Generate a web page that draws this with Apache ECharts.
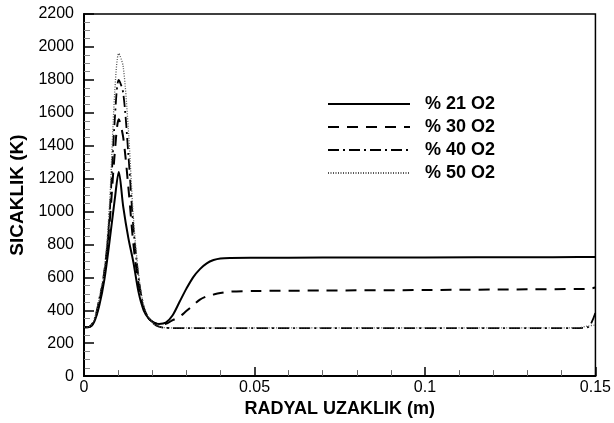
<!DOCTYPE html>
<html>
<head>
<meta charset="utf-8">
<script src="https://cdn.jsdelivr.net/npm/echarts@6/dist/echarts.min.js"></script>
<style>html,body{margin:0;padding:0;background:#fff}#c{width:614px;height:423px}</style>
</head>
<body>
<div id="c"></div>
<script>
var xs = [0, 0.0015, 0.003, 0.0045, 0.006, 0.0075, 0.009, 0.0102, 0.0115, 0.013, 0.0145, 0.016, 0.0175, 0.019, 0.0205, 0.022, 0.024, 0.026, 0.028, 0.030, 0.032, 0.034, 0.036, 0.038, 0.040, 0.043, 0.05, 0.07, 0.1, 0.13, 0.145, 0.148, 0.15];
var o21 = [297, 298, 330, 430, 590, 820, 1070, 1240, 1030, 840, 690, 510, 400, 350, 325, 317, 325, 370, 450, 530, 600, 650, 685, 705, 715, 718, 719, 720, 721, 722, 723, 723, 723];
var o30 = [297, 298, 335, 450, 640, 930, 1350, 1560, 1450, 1150, 800, 560, 410, 350, 325, 316, 318, 340, 360, 395, 430, 465, 485, 496, 505, 514, 517, 520, 523, 527, 529, 530, 538];
var o40 = [297, 299, 340, 470, 620, 980, 1550, 1800, 1720, 1350, 900, 600, 420, 350, 318, 300, 293, 292, 291, 291, 291, 291, 291, 291, 291, 291, 291, 291, 291, 291, 292, 300, 385];
var o50 = [297, 300, 345, 480, 650, 1050, 1720, 1960, 1880, 1500, 960, 620, 430, 355, 318, 300, 294, 293, 293, 293, 293, 293, 293, 293, 293, 293, 293, 293, 293, 293, 294, 305, 310];
var names = ['% 21 O2', '% 30 O2', '% 40 O2', '% 50 O2'];
var xTicks = [0, 0.05, 0.1, 0.15];
var yTicks = [0, 200, 400, 600, 800, 1000, 1200, 1400, 1600, 1800, 2000, 2200];

function pairs(v){ return xs.map(function(x,i){ return [x, v[i]]; }); }
var styles = [
  {color:'#000', width:2, type:'solid'},
  {color:'#000', width:2, type:[11,8]},
  {color:'#000', width:1.8, type:[11,4,2,4]},
  {color:'#555', width:1.3, type:[1,1.5]}
];
var vals = [o21, o30, o40, o50];
var chart = echarts.init(document.getElementById('c'));
var font = 'Liberation Sans, Arial, sans-serif';
chart.setOption({
  animation:false,
  grid:{left:84, right:17, top:14, bottom:39, show:true, borderColor:'#000', borderWidth:1.5, backgroundColor:'transparent'},
  legend:{
    orient:'vertical', left:322, top:90, itemWidth:82, itemHeight:14, itemGap:5,
    data:names,
    itemStyle:{opacity:0},
    textStyle:{fontFamily:font, fontWeight:'bold', fontSize:18, lineHeight:14, color:'#000', padding:[0,0,0,10]}
  },
  xAxis:{
    type:'value', min:xTicks[0], max:xTicks[xTicks.length-1], interval:0.05,
    name:'RADYAL UZAKLIK (m)', nameLocation:'middle', nameGap:17,
    nameTextStyle:{fontFamily:font, fontWeight:'bold', fontSize:18, color:'#000'},
    axisLine:{lineStyle:{color:'#000', width:2}},
    axisTick:{inside:true, length:9, lineStyle:{color:'#000', width:1.5}},
    minorTick:{show:true, splitNumber:5, length:6, lineStyle:{color:'#666', width:1}},
    axisLabel:{fontFamily:font, fontSize:16, color:'#000', margin:3, formatter:function(v){ return String(v); }},
    splitLine:{show:false}
  },
  yAxis:{
    type:'value', min:yTicks[0], max:yTicks[yTicks.length-1], interval:200,
    name:'SICAKLIK (K)', nameLocation:'middle', nameGap:55,
    nameTextStyle:{fontFamily:font, fontWeight:'bold', fontSize:19, color:'#000'},
    axisLine:{show:true, lineStyle:{color:'#000', width:2}},
    axisTick:{inside:true, length:10, lineStyle:{color:'#000', width:1.5}},
    minorTick:{show:true, splitNumber:4, length:6, lineStyle:{color:'#888', width:1}},
    axisLabel:{fontFamily:font, fontSize:16, color:'#000', margin:10, formatter:function(v){ return String(v); }},
    splitLine:{show:false}
  },
  series: names.map(function(n,i){
    return {name:n, type:'line', data:pairs(vals[i]), symbol:'none', smooth:0.3,
      lineStyle:styles[i], itemStyle:{color:styles[i].color}};
  })
});
</script>
</body>
</html>
